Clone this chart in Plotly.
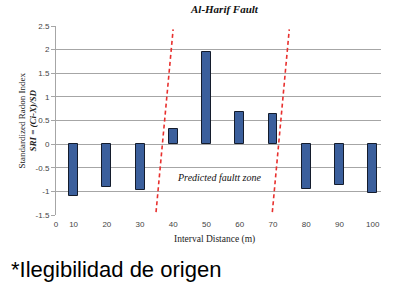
import plotly.graph_objects as go

distances = [10, 20, 30, 40, 50, 60, 70, 80, 90, 100]
sri_values = [-1.1, -0.9, -0.98, 0.33, 1.95, 0.68, 0.64, -0.95, -0.87, -1.04]

x_tick_vals = [4.7, 10, 20, 30, 40, 50, 60, 70, 80, 90, 100]
x_tick_text = ["0", "10", "20", "30", "40", "50", "60", "70", "80", "90", "100"]
y_tick_vals = [-1.5, -1, -0.5, 0, 0.5, 1, 1.5, 2, 2.5]
y_tick_text = ["-1.5", "-1", "-0.5", "0", "0.5", "1", "1.5", "2", "2.5"]

# predicted fault zone boundaries (dashed lines): [x_bottom, x_top]
fault_left = [34.8, 39.95]
fault_right = [69.8, 74.9]
fault_y = [-1.44, 2.43]

serif = "Liberation Serif, Times New Roman, serif"
sans = "Liberation Sans, Arial, sans-serif"

W, H = 402, 287
L, R, T, B = 56, 21, 26, 72
PW = W - L - R
PH = H - T - B

fig = go.Figure()
fig.add_trace(go.Bar(
    x=distances, y=sri_values, width=2.7,
    marker=dict(color="#3b5f9c", line=dict(color="#141c2c", width=1)),
    showlegend=False,
))

for xs in (fault_left, fault_right):
    fig.add_trace(go.Scatter(
        x=xs, y=fault_y, mode="lines",
        line=dict(color="#e8302e", width=1.6, dash="4px,3px"),
        showlegend=False, hoverinfo="skip",
    ))

fig.update_layout(
    width=W, height=H,
    margin=dict(l=L, r=R, t=T, b=B),
    paper_bgcolor="white", plot_bgcolor="white",
    bargap=0,
    xaxis=dict(
        range=[4.7, 102.5], tickvals=x_tick_vals, ticktext=x_tick_text,
        showgrid=False, zeroline=False, showline=False, automargin=False,
        ticks="", ticklabelstandoff=3,
        tickfont=dict(family=sans, size=8, color="#444444"),
    ),
    yaxis=dict(
        range=[-1.5, 2.5], tickvals=y_tick_vals, ticktext=y_tick_text,
        showgrid=True, gridcolor="#a6a6a6", gridwidth=1, automargin=False,
        zeroline=False, showline=True, linecolor="#a6a6a6", linewidth=1,
        ticks="outside", ticklen=4, tickcolor="#a6a6a6",
        tickfont=dict(family=sans, size=8, color="#444444"),
    ),
    annotations=[
        dict(text="<b><i>Al-Harif Fault</i></b>", x=55.4, xref="x", xanchor="center",
             y=1.09, yref="paper", yanchor="middle", showarrow=False,
             font=dict(family=serif, size=11, color="#111111")),
        dict(text="<i>Predicted faultt zone</i>", x=53.8, xref="x", xanchor="center",
             y=-0.70, yref="y", yanchor="middle", showarrow=False,
             font=dict(family=serif, size=10, color="#111111")),
        dict(text="Standardized Radon Index<br><b><i>SRI = (Ci-X)/SD</i></b>",
             textangle=-90, x=(27 - L) / PW, xref="paper", xanchor="center",
             y=0.5, yref="paper", yanchor="middle", showarrow=False,
             font=dict(family=serif, size=9, color="#222222")),
        dict(text="Interval Distance (m)", x=(214 - L) / PW, xref="paper", xanchor="center",
             y=-0.132, yref="paper", yanchor="middle", showarrow=False,
             font=dict(family=serif, size=9.5, color="#222222")),
        dict(text="*Ilegibilidad de origen", x=(9 - L) / PW, xref="paper", xanchor="left",
             y=-0.286, yref="paper", yanchor="middle", showarrow=False,
             font=dict(family=sans, size=22, color="#000000")),
    ],
)
fig.write_html("out.html", config={"displayModeBar": False},
               post_script="document.body.style.margin='0';")
